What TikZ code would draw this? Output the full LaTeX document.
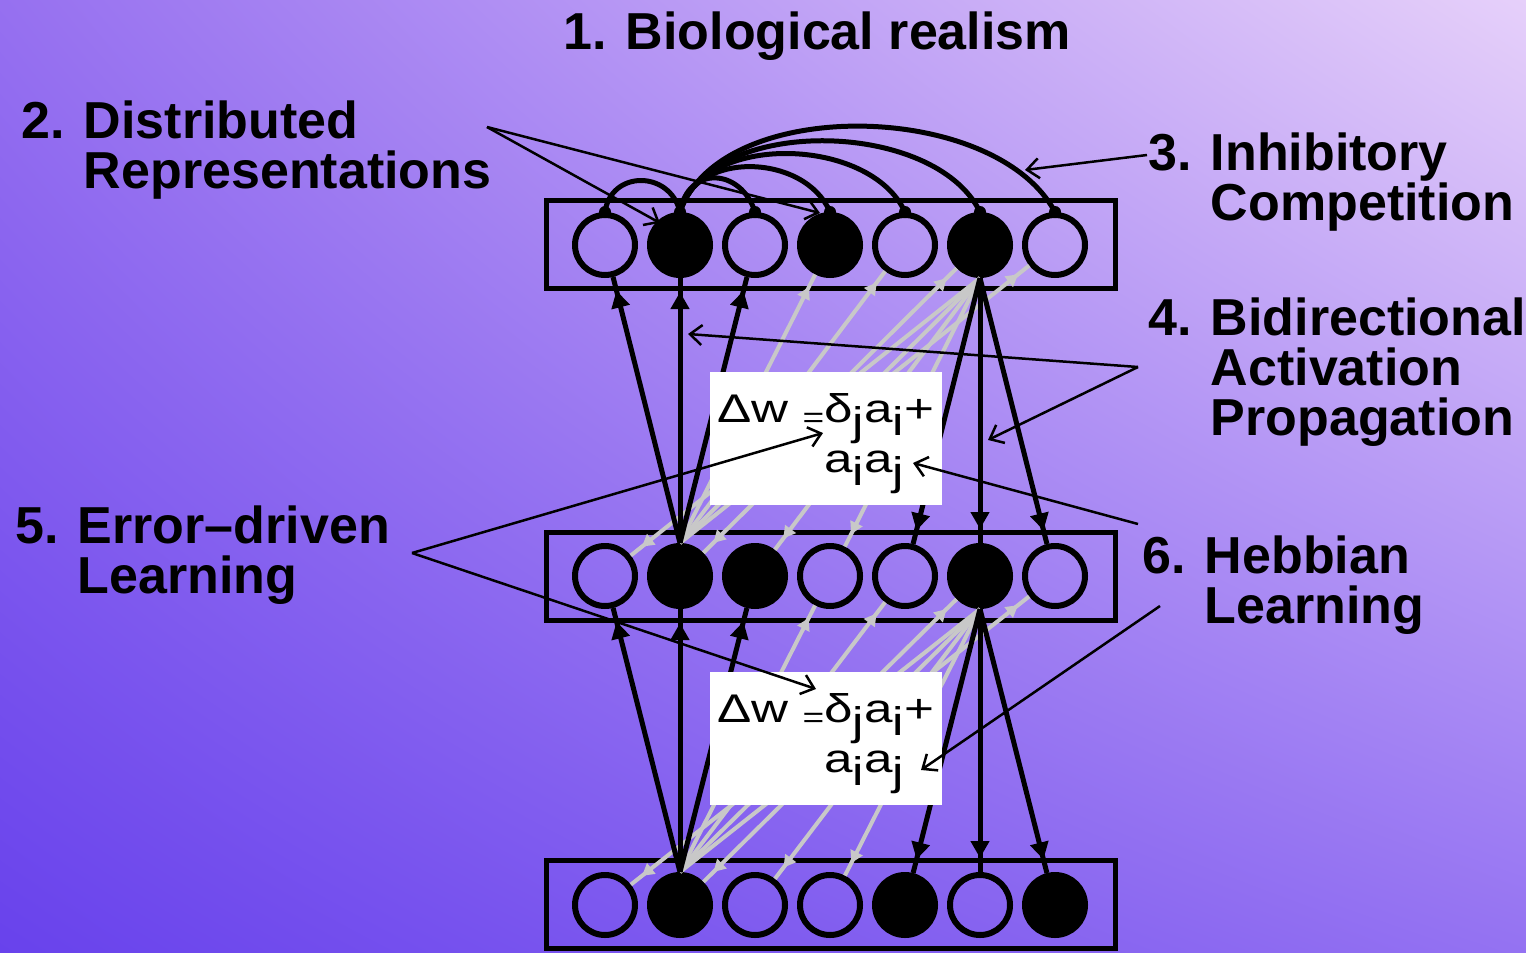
\documentclass[tikz,border=0pt]{standalone}
\usepackage{fontspec}
\usepackage{graphicx}
\setmainfont{Liberation Sans}
\usetikzlibrary{arrows.meta,decorations.markings,shadings}
\definecolor{bgUL}{RGB}{150,112,240}
\definecolor{bgUR}{RGB}{230,208,250}
\definecolor{bgLL}{RGB}{104,66,236}
\definecolor{bgLR}{RGB}{148,114,242}
\definecolor{inact}{RGB}{200,200,200}
\newcommand{\eqlineA}{\scalebox{1.28}[1]{\fontsize{40}{40}\selectfont Δw \raisebox{-5pt}{\fontsize{29}{29}\selectfont =}δ\raisebox{-13pt}{j}a\raisebox{-13pt}{i}+}}
\newcommand{\eqlineB}{\scalebox{1.28}[1]{\fontsize{40}{40}\selectfont a\raisebox{-13pt}{i}a\raisebox{-13pt}{j}}}
\begin{document}
\begin{tikzpicture}[x=1pt,y=-1pt,
 unit/.style={circle,inner sep=0pt,minimum size=60pt,line width=6pt,draw=black},
 on/.style={unit,fill=black},
 off/.style={unit},
 layerbox/.style={draw=black,line width=5pt,inner sep=0pt,minimum width=569pt,minimum height=88pt},
 dot/.style={circle,fill=black,inner sep=0pt,minimum size=12pt},
 inhib/.style={line width=5pt},
 conn/.style={line width=5pt,postaction={decorate},decoration={markings,mark=at position -14pt with {\arrow{Triangle[length=17pt,width=18pt]}}}},
 grayconn/.style={line width=4pt,color=inact,postaction={decorate},decoration={markings,mark=at position -14pt with {\arrow{Triangle[length=12pt,width=13pt]}}}},
 ann/.style={line width=2.5pt,-{Straight Barb[length=12pt,width=20pt]}},
 lbl/.style={inner sep=0pt,font=\fontsize{52}{50}\selectfont\bfseries,align=left,anchor=base west},
 eqbox/.style={fill=white,inner sep=0pt,minimum width=232pt,minimum height=133pt},
 eqtxt/.style={inner sep=0pt,anchor=base west}]
\useasboundingbox (0,0) rectangle (1526,953);
\shade[upper left=bgUL,upper right=bgUR,lower left=bgLL,lower right=bgLR] (0,0) rectangle (1526,953);

% layers
\node[layerbox] (toplayer) at (830.5,244.5) {};
\node[layerbox] (midlayer) at (830.5,576) {};
\node[layerbox] (botlayer) at (830.5,904) {};

% units
\foreach \s [count=\i] in {off,on,off,on,off,on,off}
  \node[\s] (t\i) at ({530+75*\i},245) {};
\foreach \s [count=\i] in {off,on,on,off,off,on,off}
  \node[\s] (m\i) at ({530+75*\i},576) {};
\foreach \s [count=\i] in {off,on,off,off,on,off,on}
  \node[\s] (b\i) at ({530+75*\i},905) {};
\foreach \i in {1,...,7}
  \node[dot] (d\i) at (t\i.north) {};

% inactive connections
\foreach \j in {4,5,6,7} \draw[grayconn] (m2.north) -- (t\j);
\foreach \j in {1,2,3,4} \draw[grayconn] (t6.south) -- (m\j);
\foreach \j in {4,5,6,7} \draw[grayconn] (b2.north) -- (m\j);
\foreach \j in {1,2,3,4} \draw[grayconn] (m6.south) -- (b\j);

% active connections
\foreach \j in {1,2,3} \draw[conn] (m2.north) -- (t\j);
\foreach \j in {5,6,7} \draw[conn] (t6.south) -- (m\j);
\foreach \j in {1,2,3} \draw[conn] (b2.north) -- (m\j);
\foreach \j in {5,6,7} \draw[conn] (m6.south) -- (b\j);

% inhibitory arcs
\draw[inhib] (d1.center) .. controls +(6,-42) and +(-10,-42) .. (d2.center);
\draw[inhib] (d2.center) .. controls +(8,-47) and +(-14,-44) .. (d3.center);
\draw[inhib] (d2.center) .. controls +(14,-62) and +(-25,-59) .. (d4.center);
\draw[inhib] (d2.center) .. controls +(22,-80) and +(-35,-76) .. (d5.center);
\draw[inhib] (d2.center) .. controls +(30,-97) and +(-45,-93) .. (d6.center);
\draw[inhib] (d2.center) .. controls +(40,-117) and +(-60,-112) .. (d7.center);

% equation boxes
\node[eqbox] (box1) at (826,438.5) {};
\node[eqbox] (box2) at (826,738.5) {};
\node[eqtxt] (eq1a) at (717,422) {\eqlineA};
\node[eqtxt] (eq1b) at (824,472) {\eqlineB};
\node[eqtxt] (eq2a) at (717,722) {\eqlineA};
\node[eqtxt] (eq2b) at (824,772) {\eqlineB};

% labels (anchor at baseline of last line)
\node[lbl] (l1) at (563,49) {1. Biological realism};
\node[lbl] (l2) at (21,188) {2. Distributed\\\hphantom{2. }Representations};
\node[lbl] (l3) at (1148,220) {3. Inhibitory\\\hphantom{3. }Competition};
\node[lbl] (l4) at (1148,435) {4. Bidirectional\\\hphantom{4. }Activation\\\hphantom{4. }Propagation};
\node[lbl] (l5) at (15,593) {5. Error--driven\\\hphantom{5. }Learning};
\node[lbl] (l6) at (1142,623) {6. Hebbian\\\hphantom{6. }Learning};

% annotation arrows
\coordinate (a2) at (487,127);
\coordinate (a2x) at (660,223);
\coordinate (a2y) at (820,213);
\coordinate (a3) at (1147,155);
\coordinate (a3x) at (1025,170);
\coordinate (a4) at (1138,367);
\coordinate (a4x) at (688,334);
\coordinate (a4y) at (988,440);
\coordinate (a5) at (412,553);
\coordinate (a5x) at (823,433);
\coordinate (a5y) at (816,689);
\coordinate (a6) at (1138,524);
\coordinate (a6x) at (913,463);
\coordinate (a6b) at (1160,606);
\coordinate (a6y) at (921,770);
\draw[ann] (a2) -- (a2x);
\draw[ann] (a2) -- (a2y);
\draw[ann] (a3) -- (a3x);
\draw[ann] (a4) -- (a4x);
\draw[ann] (a4) -- (a4y);
\draw[ann] (a5) -- (a5x);
\draw[ann] (a5) -- (a5y);
\draw[ann] (a6) -- (a6x);
\draw[ann] (a6b) -- (a6y);
\end{tikzpicture}
\end{document}
